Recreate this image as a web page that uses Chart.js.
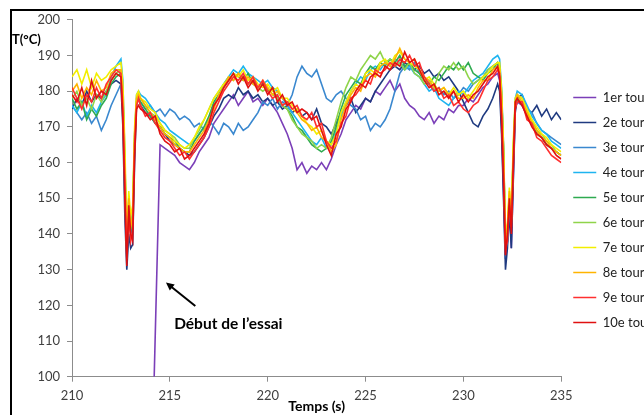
<!DOCTYPE html>
<html>
<head>
<meta charset="utf-8">
<script src="https://cdn.jsdelivr.net/npm/chart.js@4.4.1/dist/chart.umd.min.js"></script>
<style>
  html, body { margin: 0; padding: 0; background: #fff; overflow: hidden; }
  #frame { position: absolute; left: 10px; top: 9px; width: 700px; height: 420px;
           border-left: 2px solid #000; border-top: 2px solid #000; }
  #c { display: block; margin-top: -6px; }
</style>
</head>
<body>
<div id="frame"><canvas id="c" width="650" height="410"></canvas></div>
<script>
// time (s) — finer steps around the two quench dips
const times = [
  210, 210.25, 210.5, 210.75, 211, 211.25, 211.5, 211.75, 212, 212.25, 212.5,
  212.6, 212.7, 212.8, 212.9, 213, 213.1, 213.2, 213.3, 213.4,
  213.5, 213.75, 214, 214.25, 214.5, 214.75, 215, 215.25, 215.5, 215.75,
  216, 216.25, 216.5, 216.75, 217, 217.25, 217.5, 217.75,
  218, 218.25, 218.5, 218.75, 219, 219.25, 219.5, 219.75,
  220, 220.25, 220.5, 220.75, 221, 221.25, 221.5, 221.75,
  222, 222.25, 222.5, 222.75, 223, 223.25, 223.5, 223.75,
  224, 224.25, 224.5, 224.75, 225, 225.25, 225.5, 225.75,
  226, 226.25, 226.5, 226.75, 227, 227.25, 227.5, 227.75,
  228, 228.25, 228.5, 228.75, 229, 229.25, 229.5, 229.75,
  230, 230.25, 230.5, 230.75, 231, 231.25, 231.5, 231.75,
  231.85, 231.95, 232.05, 232.15, 232.25, 232.35, 232.45, 232.55, 232.65, 232.75,
  233, 233.25, 233.5, 233.75, 234, 234.25, 234.5, 234.75, 235
];

// start of the test (first lap rises from the bottom of the axis)
const debut = [214.2, 100];

const tour1 = [
  null, null, null, null, null, null, null, null, null, null, null,
  null, null, null, null, null, null, null, null, null,
  null, null, null, null, 165, 164, 163, 162, 160, 159,
  158, 160, 163, 165, 167, 171, 173, 175,
  177, 179, 176, 178, 180, 177, 178, 176,
  178, 176, 174, 171, 168, 164, 158, 160,
  157, 159, 158, 160, 158, 161, 165, 168,
  172, 174, 176, 175, 178, 177, 180, 179,
  181, 183, 180, 182, 178, 176, 175, 173,
  172, 174, 171, 173, 172, 175, 174, 176,
  176, 178, 177, 179, 181, 182, 184, 185,
  183, 170, 152, 133, 138, 147, 136, 156, 175, 177,
  176, 173, 171, 169, 167, 165, 164, 163, 162
];
const tour2 = [
  175, 178, 176, 180, 177, 179, 178, 180, 182, 183, 182,
  170, 145, 130, 140, 136, 137, 160, 177, 178,
  176, 174, 173, 171, 170, 168, 166, 165, 164, 163,
  162, 163, 165, 167, 170, 173, 175, 178,
  179, 178, 181, 179, 180, 178, 179, 177,
  178, 176, 177, 175, 176, 174, 175, 173,
  174, 172, 175, 171, 170, 168, 171, 174,
  176, 178, 174, 176, 178, 177, 180, 182,
  184, 186, 187, 186, 188, 187, 186, 187,
  185, 186, 184, 185, 183, 184, 182, 180,
  177, 174, 171, 170, 173, 175, 178, 182,
  180, 168, 150, 130, 136, 146, 136, 155, 174, 178,
  179, 175, 174, 176, 173, 175, 172, 174, 172
];
const tour3 = [
  176, 174, 172, 174, 171, 173, 169, 172, 176, 179, 182,
  176, 150, 133, 145, 140, 142, 165, 177, 178,
  177, 175, 176, 174, 175, 173, 175, 174, 172, 173,
  172, 170, 171, 169, 172, 170, 168, 171,
  170, 168, 171, 169, 170, 172, 174, 177,
  176, 178, 175, 177, 176, 179, 184, 187,
  185, 184, 186, 182, 178, 177, 179, 180,
  178, 176, 175, 172, 173, 169, 171, 170,
  172, 175, 180, 185, 187, 186, 188, 185,
  183, 182, 180, 181, 179, 180, 178, 179,
  181, 180, 182, 183, 184, 186, 187, 188,
  187, 175, 158, 135, 138, 149, 142, 161, 176, 179,
  178, 175, 174, 171, 169, 168, 167, 166, 165
];
const tour4 = [
  176, 174, 177, 173, 176, 174, 177, 179, 184, 187, 189,
  183, 162, 137, 150, 143, 146, 168, 179, 180,
  179, 178, 176, 174, 172, 171, 169, 168, 167, 166,
  165, 166, 168, 170, 172, 176, 179, 182,
  184, 186, 185, 187, 185, 184, 183, 182,
  183, 181, 180, 178, 176, 174, 172, 170,
  168, 166, 165, 167, 164, 165, 169, 173,
  177, 180, 182, 184, 183, 186, 187, 186,
  188, 187, 189, 188, 186, 187, 185, 184,
  182, 180, 181, 178, 177, 176, 178, 180,
  179, 181, 183, 184, 185, 187, 189, 190,
  189, 181, 165, 136, 139, 149, 144, 163, 178, 180,
  179, 176, 173, 171, 169, 168, 166, 165, 164
];
const tour5 = [
  178, 175, 177, 172, 175, 173, 176, 178, 182, 184, 185,
  179, 158, 135, 149, 141, 144, 166, 177, 178,
  177, 175, 173, 171, 170, 168, 167, 166, 164, 163,
  163, 166, 168, 170, 173, 177, 179, 181,
  183, 185, 184, 183, 185, 182, 181, 182,
  180, 181, 178, 176, 175, 173, 170, 169,
  167, 165, 164, 163, 164, 166, 170, 175,
  179, 181, 183, 182, 185, 187, 186, 188,
  187, 189, 188, 190, 187, 188, 186, 185,
  183, 182, 184, 183, 185, 187, 186, 188,
  186, 188, 185, 184, 183, 185, 186, 188,
  187, 179, 164, 139, 140, 150, 143, 162, 176, 178,
  176, 174, 171, 168, 167, 165, 164, 163, 162
];
const tour6 = [
  178, 180, 176, 178, 175, 179, 177, 180, 183, 185, 186,
  180, 160, 138, 148, 142, 146, 167, 177, 179,
  178, 176, 174, 173, 171, 169, 168, 167, 165, 164,
  164, 167, 169, 172, 175, 178, 180, 182,
  184, 183, 185, 184, 182, 183, 181, 180,
  181, 179, 178, 176, 175, 172, 170, 168,
  167, 166, 164, 165, 164, 167, 172, 177,
  181, 184, 183, 186, 188, 190, 189, 191,
  188, 189, 187, 188, 186, 188, 185, 184,
  182, 183, 181, 185, 187, 186, 188, 186,
  187, 184, 182, 183, 184, 186, 187, 188,
  187, 180, 163, 137, 141, 151, 144, 164, 177, 178,
  177, 174, 172, 169, 168, 166, 165, 163, 162
];
const tour7 = [
  184, 186, 182, 186, 181, 185, 183, 184, 186, 187, 188,
  182, 165, 140, 152, 145, 148, 170, 179, 180,
  178, 177, 175, 174, 171, 169, 168, 166, 165, 164,
  165, 167, 170, 172, 175, 178, 180, 182,
  183, 185, 184, 186, 183, 184, 182, 181,
  182, 180, 181, 178, 178, 176, 175, 173,
  171, 170, 168, 169, 166, 165, 168, 174,
  177, 180, 182, 181, 185, 186, 185, 188,
  189, 187, 190, 191, 189, 188, 187, 186,
  183, 184, 182, 180, 181, 179, 181, 179,
  180, 178, 180, 182, 184, 185, 187, 188,
  188, 180, 165, 140, 143, 153, 146, 166, 178, 179,
  178, 175, 172, 170, 168, 167, 165, 164, 163
];
const tour8 = [
  180, 182, 178, 181, 179, 183, 180, 181, 185, 186, 186,
  178, 158, 136, 150, 142, 145, 168, 178, 179,
  178, 176, 174, 172, 170, 168, 167, 165, 164, 163,
  163, 165, 167, 169, 172, 175, 179, 181,
  184, 183, 185, 183, 184, 182, 181, 183,
  181, 179, 180, 178, 177, 175, 174, 172,
  171, 169, 170, 167, 166, 163, 165, 172,
  176, 179, 181, 180, 184, 185, 184, 187,
  188, 187, 189, 192, 189, 188, 189, 186,
  184, 183, 181, 180, 181, 179, 180, 178,
  178, 179, 178, 181, 183, 183, 186, 187,
  186, 178, 162, 138, 142, 152, 145, 163, 177, 179,
  177, 174, 171, 169, 167, 166, 164, 163, 162
];
const tour9 = [
  181, 178, 175, 179, 177, 181, 178, 182, 184, 186, 185,
  175, 155, 134, 145, 138, 141, 165, 176, 178,
  176, 173, 174, 171, 169, 167, 166, 164, 162, 163,
  161, 163, 165, 167, 170, 174, 177, 180,
  182, 184, 183, 185, 182, 184, 181, 183,
  180, 178, 179, 176, 177, 175, 176, 173,
  172, 174, 170, 171, 166, 164, 166, 171,
  173, 178, 179, 181, 183, 182, 186, 185,
  186, 188, 187, 189, 188, 190, 187, 188,
  184, 182, 180, 181, 178, 179, 176, 177,
  175, 174, 176, 177, 180, 183, 184, 186,
  185, 174, 158, 136, 138, 148, 142, 158, 175, 177,
  177, 172, 171, 167, 166, 164, 162, 161, 160
];
const tour10 = [
  179, 177, 181, 176, 183, 178, 180, 179, 183, 185, 184,
  172, 150, 131, 148, 140, 138, 162, 175, 176,
  175, 174, 172, 173, 168, 166, 165, 163, 164, 161,
  162, 164, 166, 168, 171, 176, 178, 181,
  183, 185, 182, 184, 181, 183, 180, 182,
  179, 181, 177, 179, 176, 177, 174, 175,
  174, 172, 173, 169, 165, 162, 168, 170,
  175, 177, 180, 182, 181, 184, 185, 184,
  187, 186, 188, 187, 191, 188, 189, 186,
  183, 181, 182, 179, 180, 178, 180, 177,
  179, 177, 179, 180, 182, 184, 185, 187,
  184, 172, 155, 134, 140, 150, 140, 160, 177, 178,
  176, 173, 170, 168, 167, 165, 164, 162, 161
];

const seriesNames = ['1er tour', '2e tour', '3e tour', '4e tour', '5e tour',
                     '6e tour', '7e tour', '8e tour', '9e tour', '10e tour'];
const seriesValues = [tour1, tour2, tour3, tour4, tour5, tour6, tour7, tour8, tour9, tour10];
const seriesColors = ['#7b3fb8', '#1f3a80', '#3a88cf', '#1eb4f0', '#2eaa50',
                      '#8fd44a', '#f2ee00', '#ffb400', '#ff3030', '#e01010'];

function points(values) {
  return times.map((t, k) => ({ x: t, y: values[k] })).filter(p => p.y !== null);
}

Chart.defaults.font.family = 'Lato';
Chart.defaults.font.size = 13;
Chart.defaults.color = '#404040';

// text and arrow drawn on top of the chart
const extras = {
  id: 'extras',
  afterDraw(chart) {
    const ctx = chart.ctx;
    const x = chart.scales.x, y = chart.scales.y;
    ctx.save();
    ctx.fillStyle = '#000';
    ctx.textBaseline = 'middle';
    ctx.textAlign = 'left';
    ctx.font = 'bold 13px Lato';
    ctx.fillText('T(°C)', 0, 35);

    ctx.font = 'bold 15.5px Lato';
    ctx.fillText('Début de l’essai', x.getPixelForValue(215.22), y.getPixelForValue(114.7));

    const x0 = x.getPixelForValue(216.3), y0 = y.getPixelForValue(119.8);
    const x1 = x.getPixelForValue(214.8), y1 = y.getPixelForValue(126.4);
    const a = Math.atan2(y1 - y0, x1 - x0);
    ctx.strokeStyle = '#000';
    ctx.lineWidth = 2;
    ctx.beginPath();
    ctx.moveTo(x0, y0);
    ctx.lineTo(x1 - 4 * Math.cos(a), y1 - 4 * Math.sin(a));
    ctx.stroke();
    ctx.beginPath();
    ctx.moveTo(x1, y1);
    ctx.lineTo(x1 - 9 * Math.cos(a - 0.45), y1 - 9 * Math.sin(a - 0.45));
    ctx.lineTo(x1 - 9 * Math.cos(a + 0.45), y1 - 9 * Math.sin(a + 0.45));
    ctx.closePath();
    ctx.fill();
    ctx.restore();
  }
};

new Chart(document.getElementById('c'), {
  type: 'line',
  data: {
    datasets: seriesNames.map((name, i) => ({
      label: name,
      data: i === 0 ? [{ x: debut[0], y: debut[1] }].concat(points(seriesValues[i])) : points(seriesValues[i]),
      borderColor: seriesColors[i],
      backgroundColor: seriesColors[i],
      borderWidth: 1.6,
      pointRadius: 0,
      tension: 0,
      order: seriesNames.length - i
    }))
  },
  options: {
    responsive: false,
    animation: false,
    devicePixelRatio: 1,
    layout: { padding: { top: 0, left: 0, right: 0, bottom: 0 } },
    plugins: {
      tooltip: { enabled: false },
      legend: {
        position: 'right',
        labels: {
          usePointStyle: true,
          pointStyle: 'line',
          pointStyleWidth: 23,
          padding: 12,
          color: '#222',
          sort: (a, b) => a.datasetIndex - b.datasetIndex
        }
      }
    },
    scales: {
      x: {
        type: 'linear',
        min: 210,
        max: 235,
        afterFit: (s) => { s.height = 38.3; },
        ticks: { stepSize: 5, padding: 6, color: '#404040' },
        grid: { drawOnChartArea: false, drawTicks: true, tickLength: 5, color: '#8c8c8c' },
        border: { color: '#8c8c8c', width: 1 },
        title: { display: true, text: 'Temps (s)', color: '#000', font: { weight: 'bold', size: 14 }, padding: 0 }
      },
      y: {
        min: 100,
        max: 200,
        afterFit: (s) => { s.width = 60; },
        ticks: { stepSize: 10, padding: 7, color: '#404040' },
        grid: { drawOnChartArea: false, drawTicks: true, tickLength: 5, color: '#8c8c8c' },
        border: { color: '#8c8c8c', width: 1 }
      }
    }
  },
  plugins: [extras]
});
</script>
</body>
</html>
